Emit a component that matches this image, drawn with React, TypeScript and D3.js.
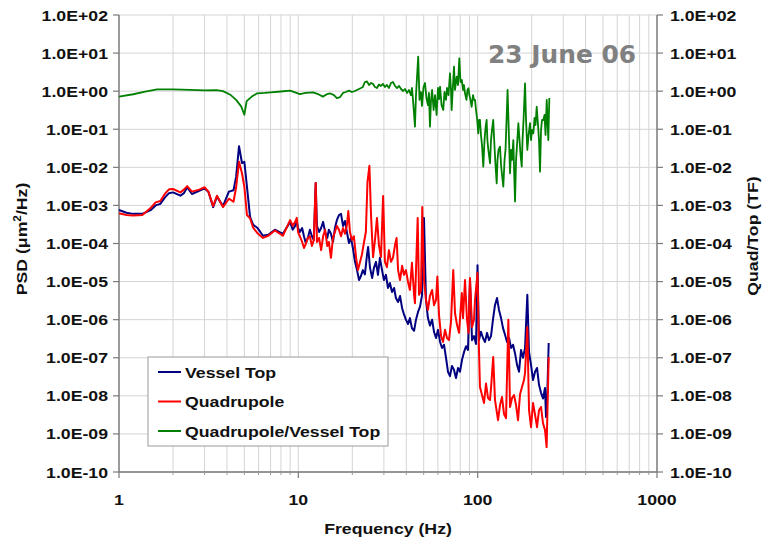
import React from "react";
import * as d3 from "d3";

const xTickValues = [1, 10, 100, 1000];
const xTickLabels = ["1", "10", "100", "1000"];
const yTickValues = [1e2, 1e1, 1e0, 1e-1, 1e-2, 1e-3, 1e-4, 1e-5, 1e-6, 1e-7, 1e-8, 1e-9, 1e-10];
const yTickLabels = ["1.0E+02", "1.0E+01", "1.0E+00", "1.0E-01", "1.0E-02", "1.0E-03", "1.0E-04", "1.0E-05", "1.0E-06", "1.0E-07", "1.0E-08", "1.0E-09", "1.0E-10"];

const seriesNames = ["Vessel Top", "Quadrupole", "Quadrupole/Vessel Top"];

const vesselTop: [number, number][] = [
  [1.0, 7.6e-4], [1.1, 6.4e-4], [1.2, 6.0e-4], [1.35, 6.0e-4], [1.5, 7.5e-4], [1.6, 1.0e-3],
  [1.7, 1.1e-3], [1.8, 1.6e-3], [1.9, 2.1e-3], [2.0, 2.2e-3], [2.2, 1.8e-3], [2.3, 2.1e-3],
  [2.4, 3.0e-3], [2.55, 2.0e-3], [2.8, 2.4e-3], [3.0, 2.8e-3], [3.15, 2.3e-3], [3.35, 9.0e-4],
  [3.52, 1.7e-3], [3.8, 9.6e-4], [4.1, 2.3e-3], [4.35, 2.5e-3], [4.5, 5.7e-3], [4.67, 3.6e-2],
  [4.85, 1.3e-2], [5.0, 1.4e-2], [5.17, 3.1e-3], [5.38, 5.0e-4], [5.6, 3.1e-4], [5.9, 2.6e-4],
  [6.35, 1.6e-4], [6.8, 1.7e-4], [7.4, 2.3e-4], [8.2, 1.8e-4],
  [9.0, 3.7e-4], [9.3, 2.3e-4], [9.6, 2.9e-4], [9.8, 3.9e-4], [9.96, 2.55e-4], [10.2, 2.0e-4],
  [10.5, 2.55e-4], [10.75, 1.55e-4], [11.0, 1.03e-4], [11.3, 1.4e-4], [11.6, 2.3e-4], [11.9, 1.55e-4],
  [12.2, 1.23e-4], [12.5, 3.9e-3], [12.7, 2.9e-4], [13.05, 2.0e-4], [13.4, 2.55e-4], [13.75, 3.7e-4],
  [14.1, 2.0e-4], [14.5, 1.4e-4], [14.8, 2.3e-4], [15.2, 1.8e-4], [15.6, 1.1e-4], [16.0, 2.55e-4],
  [16.4, 4.1e-4], [16.85, 5.6e-4], [17.3, 6.0e-4], [17.75, 2.9e-4], [18.2, 3.9e-4], [18.65, 2.0e-4],
  [19.15, 1.03e-4], [19.65, 1.4e-4], [20.15, 7.6e-5], [20.7, 3.3e-5], [21.25, 2.0e-5], [21.8, 1.1e-5],
  [22.35, 1.4e-5], [22.9, 2.0e-5], [23.5, 1.55e-5], [24.15, 5.0e-5], [24.5, 8.1e-5], [25.1, 2.3e-5],
  [25.8, 1.24e-5], [26.4, 2.3e-5], [27.1, 3.3e-5], [27.8, 1.5e-5], [28.5, 4.2e-5], [29.3, 2.0e-5],
  [30.0, 1.1e-5], [30.8, 1.5e-5], [31.6, 6.8e-6], [32.4, 9.2e-6], [33.3, 5.3e-6], [34.2, 6.8e-6],
  [35.0, 3.7e-6], [36.0, 2.9e-6], [36.9, 4.2e-6], [37.9, 2.0e-6], [38.8, 1.4e-6], [39.8, 1.0e-6],
  [40.9, 7.7e-7], [41.9, 1.1e-6], [43.0, 6.0e-7], [44.2, 5.1e-7], [45.3, 1.0e-6], [46.5, 1.6e-6],
  [47.7, 2.2e-6], [48.9, 4.2e-6], [50.2, 4.7e-4], [51.5, 3.3e-6], [52.8, 1.1e-6], [54.2, 7.0e-7],
  [55.7, 1.0e-6], [57.1, 4.8e-7], [58.6, 3.3e-7], [60.1, 5.4e-7], [61.7, 2.6e-7], [63.3, 1.8e-7],
  [64.9, 2.2e-7], [66.6, 1.0e-7], [68.3, 4.3e-8], [70.1, 3.3e-8], [71.9, 6.1e-8], [73.8, 4.8e-8],
  [75.7, 2.95e-8], [77.7, 5.4e-8], [79.7, 4.3e-8], [81.8, 8.8e-8], [83.9, 1.4e-7], [86.1, 2.0e-7],
  [88.3, 1.6e-7], [90.6, 1.1e-5], [93.0, 2.9e-7], [95.4, 3.7e-7], [97.9, 2.3e-7], [99.8, 2.7e-5],
  [101.7, 2.9e-7], [104.3, 4.8e-7], [107.1, 3.3e-7], [109.9, 2.6e-7], [112.7, 4.5e-7], [115.7, 2.9e-7],
  [118.7, 3.7e-7], [121.7, 1.0e-6], [124.9, 2.4e-6], [128.2, 3.7e-6], [131.5, 1.8e-6], [135.0, 1.1e-6],
  [138.5, 6.0e-7], [142.1, 4.0e-7], [145.8, 2.6e-7], [149.6, 3.3e-7], [153.5, 1.8e-7], [157.5, 2.2e-7],
  [161.6, 1.3e-7], [165.8, 6.5e-8], [170.1, 4.3e-8], [174.5, 1.6e-7], [179.0, 1.0e-7], [183.7, 1.8e-7],
  [189.2, 4.5e-6], [193.4, 1.4e-7], [198.4, 6.5e-8], [203.6, 2.6e-8], [208.9, 4.3e-8], [214.3, 5.4e-8],
  [219.8, 1.95e-8], [225.6, 1.2e-8], [231.4, 8.5e-9], [237.4, 1.6e-8], [240.5, 2.8e-9], [243.6, 5.7e-9],
  [248.9, 2.45e-7],
];

const quadrupole: [number, number][] = [
  [1.0, 6.2e-4], [1.1, 5.6e-4], [1.2, 5.4e-4], [1.35, 5.6e-4], [1.5, 8.5e-4], [1.6, 1.2e-3],
  [1.7, 1.3e-3], [1.8, 2.0e-3], [1.9, 2.65e-3], [2.0, 2.7e-3], [2.2, 2.2e-3], [2.3, 2.6e-3],
  [2.4, 3.2e-3], [2.55, 2.3e-3], [2.8, 2.6e-3], [3.0, 3.0e-3], [3.15, 2.3e-3], [3.35, 9.6e-4],
  [3.52, 1.8e-3], [3.8, 9.0e-4], [4.1, 1.5e-3], [4.35, 1.25e-3], [4.5, 3.0e-3], [4.67, 1.4e-2],
  [4.85, 7.0e-3], [5.0, 3.1e-3], [5.17, 5.6e-4], [5.38, 4.6e-4], [5.6, 2.6e-4], [5.9, 1.9e-4],
  [6.35, 1.4e-4], [6.8, 1.6e-4], [7.4, 2.2e-4], [8.2, 1.6e-4],
  [9.0, 4.1e-4], [9.3, 2.9e-4], [9.6, 3.7e-4], [9.8, 4.7e-4], [9.96, 2.0e-4], [10.2, 1.55e-4],
  [10.5, 1.1e-4], [10.75, 7.6e-5], [11.0, 9.7e-5], [11.3, 1.4e-4], [11.6, 1.55e-4], [11.9, 8.6e-5],
  [12.2, 1.23e-4], [12.5, 3.9e-3], [12.7, 1.1e-4], [13.05, 1.4e-4], [13.4, 6.7e-5], [13.75, 1.55e-4],
  [14.1, 2.3e-4], [14.5, 8.6e-5], [14.8, 1.1e-4], [15.2, 4.2e-5], [15.6, 1.4e-4], [16.0, 2.0e-4],
  [16.4, 2.9e-4], [16.85, 2.3e-4], [17.3, 1.55e-4], [17.75, 2.55e-4], [18.2, 1.8e-4], [18.65, 3.0e-4],
  [19.0, 7.1e-4], [19.4, 2.0e-4], [19.9, 1.23e-4], [20.4, 1.55e-4], [21.0, 4.2e-5], [21.5, 2.0e-5],
  [22.1, 3.3e-5], [22.6, 5.0e-5], [23.2, 1.03e-4], [23.8, 2.0e-4], [24.3, 4.1e-3], [24.9, 1.1e-2],
  [25.45, 5.0e-4], [26.1, 4.4e-5], [26.75, 1.23e-4], [27.45, 4.7e-4], [28.15, 9.1e-5], [28.9, 4.4e-5],
  [29.7, 1.78e-3], [30.4, 3.3e-5], [31.2, 2.4e-5], [32.0, 6.7e-5], [32.85, 3.3e-5], [33.7, 4.2e-5],
  [34.6, 9.1e-5], [35.3, 1.4e-4], [36.0, 2.0e-5], [36.9, 1.1e-5], [37.9, 2.6e-5], [38.8, 1.5e-5],
  [39.8, 2.0e-5], [40.9, 9.8e-6], [41.9, 6.0e-6], [43.0, 3.1e-5], [44.2, 4.5e-6], [44.7, 2.7e-6],
  [46.3, 4.7e-4], [47.1, 4.5e-6], [48.3, 6.0e-6], [49.1, 9.1e-4], [50.2, 1.1e-5], [51.5, 3.3e-6],
  [52.8, 1.8e-6], [54.2, 4.2e-6], [55.7, 6.0e-6], [57.1, 2.4e-6], [58.6, 3.3e-6], [59.6, 1.35e-5],
  [60.9, 1.3e-6], [62.5, 3.7e-7], [64.1, 2.6e-7], [65.75, 5.4e-7], [67.45, 3.3e-7], [69.2, 2.9e-7],
  [71.0, 8.7e-7], [73.1, 2.0e-5], [74.75, 1.5e-6], [76.7, 7.3e-7], [78.7, 4.5e-7], [81.6, 5.0e-6],
  [82.85, 1.1e-6], [85.0, 1.1e-5], [87.2, 1.0e-6], [88.9, 4.5e-7], [90.6, 1.24e-5], [93.0, 6.4e-7],
  [95.4, 1.0e-6], [96.65, 3.3e-6], [99.8, 1.7e-5], [101.6, 1.9e-7], [103.0, 1.7e-8], [105.7, 1.05e-8],
  [108.5, 6.5e-9], [111.3, 2.1e-8], [114.2, 8.8e-9], [117.2, 7.8e-9], [118.7, 1.6e-8], [122.1, 1.05e-7],
  [124.9, 7.8e-9], [126.6, 5.1e-9], [129.9, 2.3e-9], [133.2, 5.7e-9], [136.7, 9.3e-9], [140.3, 3.3e-9],
  [143.9, 2.6e-9], [148.3, 1.0e-6], [151.5, 5.1e-9], [155.5, 8.8e-9], [159.5, 1.05e-8], [163.7, 5.7e-9],
  [167.9, 2.3e-9], [172.3, 1.1e-8], [176.7, 1.7e-8], [181.3, 2.6e-8], [183.7, 4.0e-8], [189.2, 6.4e-7],
  [193.4, 4.2e-9], [198.4, 1.5e-9], [203.6, 6.5e-9], [208.9, 3.2e-9], [214.3, 1.5e-9], [219.8, 4.2e-9],
  [225.6, 5.1e-9], [231.4, 1.9e-9], [237.4, 1.26e-9], [242.4, 4.5e-10], [248.9, 1.05e-7],
];

const ratio: [number, number][] = [
  [1.0, 0.72], [1.2, 0.83], [1.4, 0.97], [1.63, 1.12], [2.0, 1.12], [2.5, 1.08], [3.0, 1.05],
  [3.5, 1.07], [3.8, 1.0], [4.2, 0.79], [4.5, 0.59], [4.8, 0.4], [5.0, 0.24], [5.15, 0.55],
  [5.5, 0.72], [5.9, 0.88], [6.5, 0.9], [7.0, 0.93], [8.0, 0.98], [9.0, 1.03], [10.2, 0.84],
  [11.0, 0.9], [12.1, 0.93], [13.0, 0.82], [13.7, 0.72], [14.5, 0.84], [15.0, 0.88], [15.8, 0.79],
  [16.4, 0.66], [17.1, 0.70], [17.75, 0.90], [18.4, 0.95], [19.15, 1.03], [19.9, 0.95], [20.7, 1.01],
  [21.5, 1.11], [22.35, 1.21], [22.9, 1.29], [23.5, 1.74], [24.15, 1.8], [24.8, 1.45], [25.45, 1.64],
  [26.1, 1.55], [26.75, 1.29], [27.45, 1.21], [28.15, 1.5], [28.9, 1.37], [29.65, 1.55], [30.4, 1.29],
  [31.2, 1.45], [32.0, 1.21], [32.85, 1.64], [33.7, 1.74], [34.6, 1.37], [35.5, 1.21], [36.45, 1.37],
  [37.4, 1.14], [38.35, 1.01], [39.3, 1.14], [40.35, 0.90], [41.4, 1.075], [42.45, 0.79], [43.0, 1.21],
  [43.6, 0.59], [44.7, 0.117], [45.3, 0.79], [46.6, 8.05], [47.4, 0.59], [48.3, 0.95], [48.9, 0.41],
  [49.9, 1.29], [50.85, 1.64], [51.8, 0.66], [52.8, 0.43], [53.5, 0.90], [54.2, 0.117], [54.95, 0.59],
  [55.7, 1.075], [56.8, 0.32], [57.85, 0.79], [59.0, 0.237], [60.1, 1.21], [60.9, 0.62], [61.7, 1.31],
  [62.9, 0.43], [64.3, 0.32], [65.3, 0.95], [66.6, 0.59], [67.45, 1.21], [68.75, 0.79], [70.1, 2.95],
  [71.0, 1.075], [71.6, 0.32], [72.85, 1.45], [73.8, 4.4], [74.75, 1.075], [76.4, 2.4], [77.7, 1.45],
  [79.0, 7.3], [80.2, 1.74], [81.6, 1.97], [82.85, 1.075], [83.9, 1.45], [85.0, 0.88], [86.6, 0.59],
  [87.7, 1.075], [88.9, 1.19], [89.9, 0.79], [91.2, 0.59], [92.6, 0.39], [94.2, 0.79], [95.4, 0.59],
  [96.65, 0.59], [97.9, 0.32], [99.15, 0.198], [100.8, 0.078], [101.7, 0.175], [103.0, 0.175],
  [104.3, 0.071], [105.7, 0.039], [107.5, 0.0104], [109.2, 0.052], [110.6, 0.108], [112.2, 0.175],
  [113.3, 0.052], [114.7, 0.0286], [117.2, 0.0128], [118.7, 0.052], [120.2, 0.096], [122.1, 0.175],
  [124.0, 0.039], [125.7, 0.0115], [127.7, 0.0038], [129.0, 0.0156], [130.7, 0.0286], [133.2, 0.035],
  [135.0, 0.0115], [136.7, 0.0063], [139.0, 0.0031], [141.2, 0.0156], [143.0, 0.0286], [146.8, 1.075],
  [149.6, 0.052], [151.5, 0.0070], [153.5, 0.0286], [155.5, 0.0156], [158.1, 0.052], [159.9, 0.0063],
  [161.6, 0.00126], [163.7, 0.0156], [165.8, 0.039], [168.6, 0.144], [171.2, 0.052], [173.4, 0.0211],
  [176.1, 0.0104], [177.9, 0.052], [180.2, 0.175], [183.7, 1.61], [186.1, 0.175], [189.2, 0.0286],
  [192.2, 0.071], [195.9, 0.144], [198.4, 0.052], [201.0, 0.096], [204.4, 0.078], [207.5, 0.198],
  [210.2, 0.129], [213.4, 0.39], [217.0, 0.129], [219.8, 0.052], [222.7, 0.0077], [225.6, 0.096],
  [228.5, 0.175], [232.4, 0.175], [236.0, 0.237], [239.0, 0.071], [242.7, 0.59], [245.2, 0.175],
  [247.7, 0.052], [251.0, 0.66],
];

const W = 762;
const H = 539;
const PL = 119, PR = 657, PT = 15, PB = 472;
const FONT = "'Liberation Sans', Arial, sans-serif";
const SX = 1.18;

export default function App() {
  const x = d3.scaleLog().domain([1, 1000]).range([PL, PR]);
  const y = d3.scaleLog().domain([1e-10, 1e2]).range([PB, PT]);
  const line = d3.line<[number, number]>().x((d) => x(d[0])).y((d) => y(d[1]));

  const minorX: number[] = [];
  [1, 10, 100].forEach((dec) => {
    for (let k = 2; k <= 9; k++) minorX.push(dec * k);
  });

  const colors = ["#000080", "#ff0000", "#008000"];
  const lg = { x: 148, y: 357, w: 240, h: 89 };

  const txt = (tx: number, ty: number, s: string, anchor: string) => (
    <text
      transform={`translate(${tx},${ty}) scale(${SX},1)`}
      textAnchor={anchor}
      fontFamily={FONT}
      fontWeight="bold"
      fontSize={15}
      fill="#111"
    >
      {s}
    </text>
  );

  return (
    <svg width={W} height={H} style={{ position: "absolute", left: 0, top: 0, background: "#fff" }}>
      <rect x={0} y={0} width={W} height={H} fill="#fff" />
      {/* grid */}
      {minorX.map((v) => (
        <line key={"gx" + v} x1={x(v)} x2={x(v)} y1={PT} y2={PB} stroke="#d4d4d4" strokeWidth={1} />
      ))}
      {[10, 100].map((v) => (
        <line key={"gX" + v} x1={x(v)} x2={x(v)} y1={PT} y2={PB} stroke="#d4d4d4" strokeWidth={1} />
      ))}
      {yTickValues.map((v) => (
        <line key={"gy" + v} x1={PL} x2={PR} y1={y(v)} y2={y(v)} stroke="#d4d4d4" strokeWidth={1} />
      ))}
      {/* axes */}
      <line x1={PL} x2={PL} y1={PT} y2={PB} stroke="#7a7a7a" strokeWidth={1.5} />
      <line x1={PR} x2={PR} y1={PT} y2={PB} stroke="#7a7a7a" strokeWidth={1.5} />
      <line x1={PL} x2={PR} y1={PB} y2={PB} stroke="#7a7a7a" strokeWidth={1.5} />
      {yTickValues.map((v) => (
        <g key={"ty" + v}>
          <line x1={PL - 6} x2={PL} y1={y(v)} y2={y(v)} stroke="#7a7a7a" strokeWidth={1.2} />
          <line x1={PR} x2={PR + 6} y1={y(v)} y2={y(v)} stroke="#7a7a7a" strokeWidth={1.2} />
        </g>
      ))}
      {xTickValues.map((v) => (
        <line key={"tx" + v} x1={x(v)} x2={x(v)} y1={PB} y2={PB + 6} stroke="#7a7a7a" strokeWidth={1.2} />
      ))}
      {minorX.map((v) => (
        <line key={"mx" + v} x1={x(v)} x2={x(v)} y1={PB} y2={PB + 3} stroke="#9a9a9a" strokeWidth={1} />
      ))}
      {/* tick labels */}
      {yTickValues.map((v, i) => (
        <g key={"ly" + v}>
          {txt(PL - 11, y(v) + 5.5, yTickLabels[i], "end")}
          {txt(PR + 13, y(v) + 5.5, yTickLabels[i], "start")}
        </g>
      ))}
      {xTickValues.map((v, i) => (
        <g key={"lx" + v}>{txt(x(v), 505, xTickLabels[i], "middle")}</g>
      ))}
      {/* axis titles */}
      {txt(388, 534, "Frequency (Hz)", "middle")}
      <text
        transform={`translate(27,239) rotate(-90) scale(${SX},1)`}
        textAnchor="middle"
        fontFamily={FONT}
        fontWeight="bold"
        fontSize={15}
        fill="#111"
      >
        PSD (μm<tspan dy={-6} fontSize={10}>2</tspan>
        <tspan dy={6}>/Hz)</tspan>
      </text>
      <text
        transform={`translate(758,236) rotate(-90) scale(${SX},1)`}
        textAnchor="middle"
        fontFamily={FONT}
        fontWeight="bold"
        fontSize={15}
        fill="#111"
      >
        Quad/Top (TF)
      </text>
      {/* series */}
      <path d={line(vesselTop) || ""} fill="none" stroke={colors[0]} strokeWidth={2} strokeLinejoin="round" />
      <path d={line(quadrupole) || ""} fill="none" stroke={colors[1]} strokeWidth={2} strokeLinejoin="round" />
      <path d={line(ratio) || ""} fill="none" stroke={colors[2]} strokeWidth={1.8} strokeLinejoin="round" />
      {/* date */}
      <text
        x={488}
        y={63}
        fontFamily="'DejaVu Sans', sans-serif"
        fontWeight="bold"
        fontSize={25}
        fill="#808080"
        textLength={148}
        lengthAdjust="spacingAndGlyphs"
      >
        23 June 06
      </text>
      {/* legend */}
      <rect x={lg.x} y={lg.y} width={lg.w} height={lg.h} fill="#fff" stroke="#9a9a9a" strokeWidth={1} />
      {seriesNames.map((n, i) => (
        <g key={n}>
          <line x1={158} x2={181} y1={372 + i * 29.5} y2={372 + i * 29.5} stroke={colors[i]} strokeWidth={2} />
          {txt(185, 377.5 + i * 29.5, n, "start")}
        </g>
      ))}
    </svg>
  );
}
